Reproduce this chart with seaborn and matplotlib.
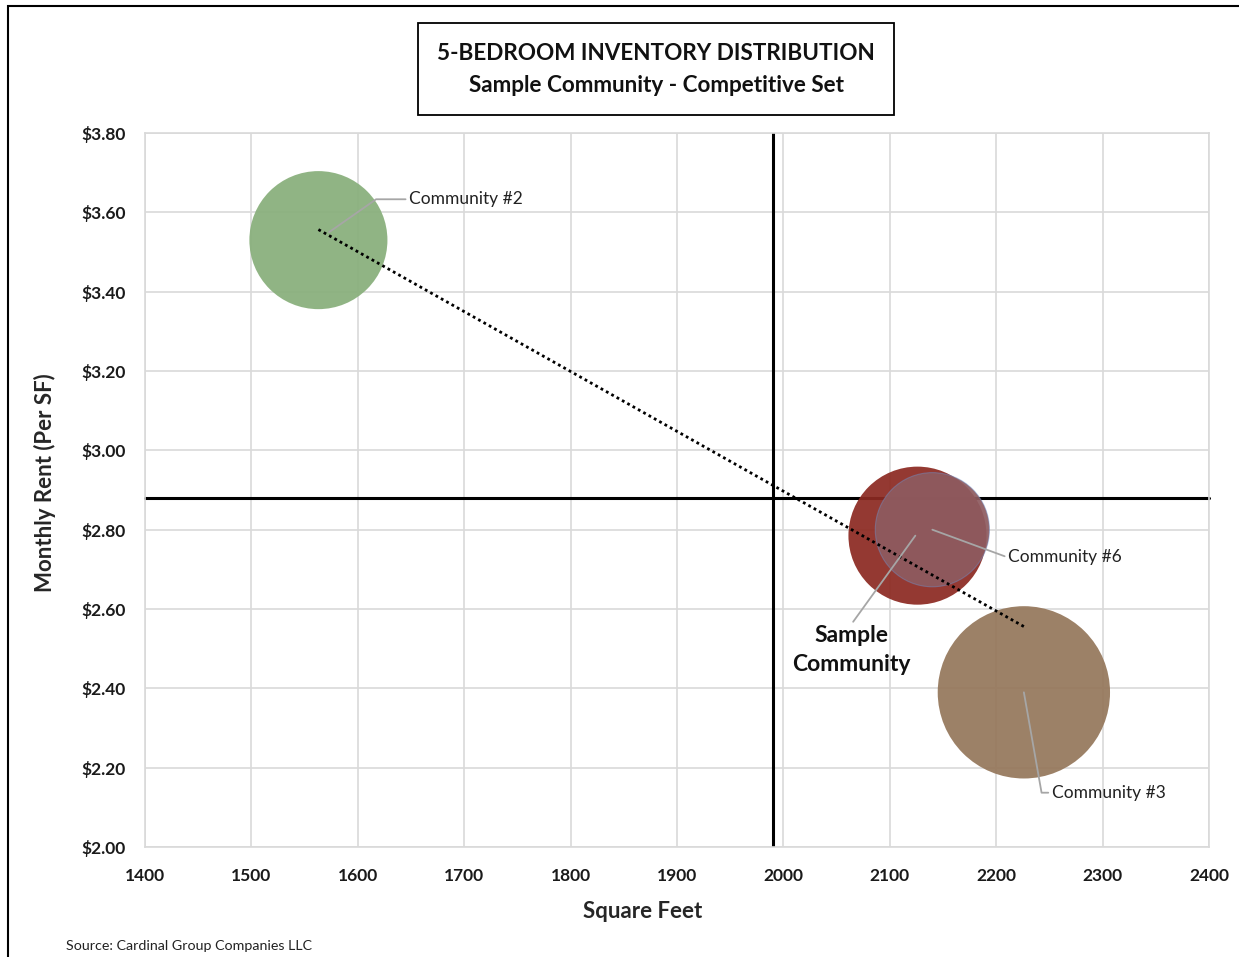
import numpy as np
import pandas as pd
import seaborn as sns
import matplotlib.pyplot as plt
from matplotlib.patches import Rectangle

# data
communities = ["Community #2", "Sample Community", "Community #6", "Community #3"]
sqft = [1563, 2126, 2140, 2226]
rent = [3.53, 2.785, 2.80, 2.39]
inventory = [95, 95, 65, 148]
colors = ["#88AF7B", "#8C2A22", "#8E5B60", "#95775B"]
avg_sqft = 1990
avg_rent = 2.88

x_ticks = list(range(1400, 2401, 100))
y_ticks = [2.0, 2.2, 2.4, 2.6, 2.8, 3.0, 3.2, 3.4, 3.6, 3.8]

df = pd.DataFrame({"name": communities, "sqft": sqft, "rent": rent, "inv": inventory})

sns.set_theme(style="whitegrid")
plt.rcParams["font.family"] = ["Lato", "DejaVu Sans"]

fig = plt.figure(figsize=(12.39, 9.57), dpi=100)
ax = fig.add_axes([0.117, 0.1149, 0.8588, 0.7461])

# bubble area proportional to inventory
k = 104
sns.scatterplot(data=df, x="sqft", y="rent", hue="name", palette=colors,
                size="inv", sizes=(min(inventory) * k, max(inventory) * k),
                size_norm=(min(inventory), max(inventory)),
                alpha=0.93, linewidth=0, legend=False, ax=ax, zorder=3)
# faint blue rim on Community #6
ax.scatter([sqft[2]], [rent[2]], s=inventory[2] * k, facecolor="none",
           edgecolor="#6F8FC8", linewidth=0.8, alpha=0.45, zorder=4)

# linear trendline
m, b = np.polyfit(sqft, rent, 1)
xs = np.array([min(sqft), max(sqft)])
ax.plot(xs, m * xs + b, color="black", linestyle=(0, (1, 1.2)), linewidth=2, zorder=5)

# average lines
ax.axhline(avg_rent, color="black", linewidth=2.2, zorder=2, clip_on=False)
ax.axvline(avg_sqft, color="black", linewidth=2.2, zorder=2)

ax.set_xlim(1400, 2400)
ax.set_ylim(2.0, 3.8)
ax.set_xticks(x_ticks)
ax.set_yticks(y_ticks)
ax.set_yticklabels(["${:.2f}".format(v) for v in y_ticks])
ax.tick_params(axis="both", labelsize=12.5, colors="#1A1A1A")
ax.tick_params(axis="y", pad=8)
ax.tick_params(axis="x", pad=9)
for lab in ax.get_xticklabels() + ax.get_yticklabels():
    lab.set_fontweight("bold")
ax.grid(True, color="#D9D9D9", linewidth=1.2)
for sp in ax.spines.values():
    sp.set_color("#D9D9D9")
    sp.set_linewidth(1.2)

ax.set_xlabel("Square Feet", fontsize=16, fontweight="bold")
ax.xaxis.set_label_coords(0.468, -0.076)
ax.set_ylabel("Monthly Rent (Per SF)", fontsize=16, fontweight="bold")
ax.yaxis.set_label_coords(-0.084, 0.51)

# labels with leader lines
lead = dict(arrowstyle="-", color="#A6A6A6", linewidth=1.3, shrinkA=0, shrinkB=0)
ax.annotate("Community #2", xy=(sqft[0] + 10, rent[0] + 0.02), xytext=(1648, 3.633),
            fontsize=12.5, va="center", ha="left", color="#222222",
            arrowprops=dict(lead, connectionstyle="angle,angleA=0,angleB=35,rad=0"), zorder=6)
ax.annotate("Sample\nCommunity", xy=(sqft[1] - 2, rent[1]), xytext=(2064, 2.497),
            fontsize=16.5, fontweight="bold", va="center", ha="center", color="#111111",
            linespacing=1.45, arrowprops=dict(lead, relpos=(0.5, 1.02)), zorder=6)
ax.annotate("Community #6", xy=(sqft[2], rent[2]), xytext=(2211, 2.73),
            fontsize=12.5, va="center", ha="left", color="#222222",
            arrowprops=dict(lead, relpos=(0, 0.5)), zorder=6)
ax.annotate("Community #3", xy=(sqft[3], rent[3]), xytext=(2252, 2.137),
            fontsize=12.5, va="center", ha="left", color="#222222",
            arrowprops=dict(lead, connectionstyle="angle,angleA=0,angleB=-80,rad=0"), zorder=6)

# title box
fig.text(0.5295, 1 - 53 / 957, "5-BEDROOM INVENTORY DISTRIBUTION",
         ha="center", va="center", fontsize=16.2, fontweight="bold", color="#111111")
fig.text(0.5295, 1 - 85 / 957, "Sample Community - Competitive Set",
         ha="center", va="center", fontsize=16.2, fontweight="bold", color="#111111")
fig.patches.append(Rectangle((418 / 1239, 1 - 115 / 957), 476 / 1239, 92 / 957,
                             transform=fig.transFigure, fill=False, edgecolor="black",
                             linewidth=1.3))
# outer border
fig.patches.append(Rectangle((8 / 1239, -0.01), 1.0, 1 - 6 / 957 + 0.01,
                             transform=fig.transFigure, fill=False, edgecolor="black",
                             linewidth=1.5))

fig.text(66 / 1239, 1 - 946 / 957, "Source: Cardinal Group Companies LLC",
         fontsize=10.3, va="center", ha="left", color="#222222")

fig.savefig("out.png", dpi=100)
